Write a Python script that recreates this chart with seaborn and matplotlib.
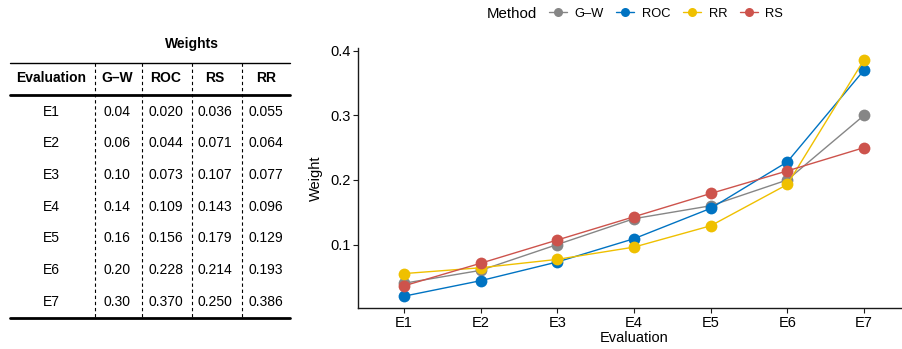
import pandas as pd
import matplotlib.pyplot as plt
import seaborn as sns

# data (from the table)
evaluations = ["E1", "E2", "E3", "E4", "E5", "E6", "E7"]
gw = [0.04, 0.06, 0.10, 0.14, 0.16, 0.20, 0.30]
roc = [0.020, 0.044, 0.073, 0.109, 0.156, 0.228, 0.370]
rs = [0.036, 0.071, 0.107, 0.143, 0.179, 0.214, 0.250]
rr = [0.055, 0.064, 0.077, 0.096, 0.129, 0.193, 0.386]

methods = ["G\u2013W", "ROC", "RR", "RS"]
colors = ["#868686", "#0073C2", "#EFC000", "#CD534C"]
table_cols = ["G\u2013W", "ROC", "RS", "RR"]
table_vals = [
    [f"{v:.2f}" for v in gw],
    [f"{v:.3f}" for v in roc],
    [f"{v:.3f}" for v in rs],
    [f"{v:.3f}" for v in rr],
]

df = pd.DataFrame({
    "Evaluation": evaluations * 4,
    "Method": sum([[m] * 7 for m in methods], []),
    "Weight": gw + roc + rr + rs,
})

sns.set_style("white")
plt.rcParams["font.family"] = ["Liberation Sans", "DejaVu Sans"]
plt.rcParams["text.color"] = "black"
plt.rcParams["axes.labelcolor"] = "black"

W, H = 902, 349
fig = plt.figure(figsize=(W / 100, H / 100), dpi=100)

# ---- table on the left (pixel coordinates) ----
tab = fig.add_axes([0, 0, 1, 1])
tab.set_xlim(0, W)
tab.set_ylim(H, 0)
tab.axis("off")

fs = 10
tab.text(192, 44, "Weights", ha="center", va="center", fontsize=fs, fontweight="bold")
tab.plot([10, 290], [63, 63], color="black", lw=1.0)
tab.plot([10, 290], [94.5, 94.5], color="black", lw=2.0)
tab.plot([10, 290], [317.5, 317.5], color="black", lw=2.0)
for xs in [95, 142, 192, 242]:
    tab.plot([xs, xs], [63, 317], color="black", lw=0.8, ls=(0, (3, 2.5)))

col_x = [51, 117, 166, 215, 266]
hdr_y = 78
tab.text(col_x[0], hdr_y, "Evaluation", ha="center", va="center", fontsize=fs, fontweight="bold")
for cx, name in zip(col_x[1:], table_cols):
    tab.text(cx, hdr_y, name, ha="center", va="center", fontsize=fs, fontweight="bold")

row_y = [111.7 + 31.67 * i for i in range(7)]
for i, ev in enumerate(evaluations):
    tab.text(col_x[0], row_y[i], ev, ha="center", va="center", fontsize=fs)
    for j in range(4):
        tab.text(col_x[j + 1], row_y[i], table_vals[j][i], ha="center", va="center", fontsize=fs)

# ---- line chart on the right ----
ax = fig.add_axes([358 / W, (H - 308) / H, (910 - 358) / W, (308 - 48) / H])
sns.lineplot(data=df, x="Evaluation", y="Weight", hue="Method", hue_order=methods,
             palette=colors, marker="o", markersize=8.5, markeredgewidth=0,
             linewidth=1.0, ax=ax, legend=False)

ax.set_xlim(-0.6, 6.6)
ax.set_ylim(0.0017, 0.4043)
ax.set_yticks([0.1, 0.2, 0.3, 0.4])
ax.set_yticklabels(["0.1", "0.2", "0.3", "0.4"])
ax.tick_params(axis="both", labelsize=10.5, colors="#1a1a1a", length=3.5, width=0.8,
               direction="out", left=True, bottom=True, pad=2)
ax.tick_params(axis="both", labelcolor="black")
for s in ["top", "right"]:
    ax.spines[s].set_visible(False)
for s in ["left", "bottom"]:
    ax.spines[s].set_color("#1a1a1a")
    ax.spines[s].set_linewidth(1.0)
ax.set_xlabel("Evaluation", fontsize=10.5, labelpad=1)
ax.set_ylabel("Weight", fontsize=10.5, labelpad=5)

# legend on top
handles = [plt.Line2D([], [], color=c, marker="o", markersize=6.5, markeredgewidth=0, lw=1.0)
           for c in colors]
fig.text(487 / W, 1 - 14 / H, "Method", ha="left", va="center", fontsize=10.8)
fig.legend(handles, methods, loc="center left", bbox_to_anchor=(549 / W, 1 - 14 / H),
           ncol=4, frameon=False, fontsize=9.3, handlelength=1.4, handletextpad=0.6,
           columnspacing=0.95, borderpad=0, borderaxespad=0)

fig.savefig("out.png", dpi=100)
